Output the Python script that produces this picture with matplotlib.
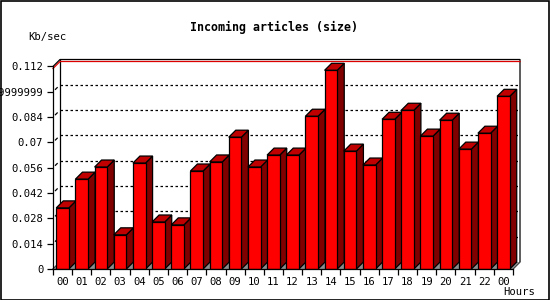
import numpy as np
import matplotlib
matplotlib.use("Agg")
import matplotlib.pyplot as plt
from matplotlib.patches import Polygon, Rectangle

# data
hours = ["00", "01", "02", "03", "04", "05", "06", "07", "08", "09", "10", "11",
         "12", "13", "14", "15", "16", "17", "18", "19", "20", "21", "22", "00"]
kb_sec = [0.0338, 0.0497, 0.0564, 0.0189, 0.0586, 0.0260, 0.0244, 0.0542,
          0.0592, 0.0729, 0.0564, 0.0630, 0.0630, 0.0845, 0.1099, 0.0652,
          0.0575, 0.0828, 0.0878, 0.0735, 0.0823, 0.0663, 0.0751, 0.0955]
ytick_vals = [0, 0.014, 0.028, 0.042, 0.056, 0.07, 0.084, 0.098, 0.112]
ytick_labels = ["0", "0.014", "0.028", "0.042", "0.056", "0.07", "0.084",
                "0.09999999", "0.112"]

mono = "DejaVu Sans Mono"
W, H = 550, 300
fig = plt.figure(figsize=(W / 100, H / 100), dpi=100)
fig.patch.set_facecolor("white")
fig.patches.append(Rectangle((0.5 / W, 0.5 / H), 1 - 1.5 / W, 1 - 1.5 / H,
                             transform=fig.transFigure, fill=False,
                             edgecolor="black", linewidth=1.2))

# front face of the plot area in pixels
left_px, right_px, top_px, bot_px = 53, 513, 66.5, 269
ax = fig.add_axes([left_px / W, 1 - bot_px / H, (right_px - left_px) / W,
                   (bot_px - top_px) / H])
ax.patch.set_alpha(0)

xmin, xmax = -0.5, len(hours) - 0.5
ymin, ymax = 0, 0.112
ax.set_xlim(xmin, xmax)
ax.set_ylim(ymin, ymax)

# 3d depth, 7 px right and up
DX = 7 * (xmax - xmin) / (right_px - left_px)
DY = 7 * (ymax - ymin) / (bot_px - top_px)
RED_OFF = 2 * (ymax - ymin) / (bot_px - top_px)

lw = 0.9
# back wall grid
for v in ytick_vals[1:-1]:
    ax.plot([xmin + DX, xmax + DX], [v + DY, v + DY], color="black", lw=lw,
            linestyle=(0, (2, 2)), clip_on=False, zorder=1)
    ax.plot([xmin + 0.35 * DX, xmin + 0.6 * DX], [v + 0.35 * DY, v + 0.6 * DY],
            color="black", lw=lw, clip_on=False, zorder=1)

# back wall frame
ax.plot([xmin, xmin + DX, xmax + DX, xmax + DX, xmax],
        [ymax, ymax + DY, ymax + DY, DY, 0], color="black", lw=lw,
        clip_on=False, zorder=1)
ax.plot([xmin + DX, xmin + DX], [DY, ymax + DY], color="black", lw=lw,
        clip_on=False, zorder=1)
ax.plot([xmin, xmin + DX], [0, DY], color="black", lw=lw, clip_on=False, zorder=1)
ax.plot([xmin, xmin + DX, xmax + DX], [ymax - RED_OFF, ymax + DY - RED_OFF, ymax + DY - RED_OFF],
        color="#dd0000", lw=lw, clip_on=False, zorder=1)

# floor
ax.add_patch(Polygon([(xmin, 0), (xmax, 0), (xmax + DX, DY), (xmin + DX, DY)],
                     closed=True, facecolor="#8c8c8c", edgecolor="none",
                     clip_on=False, zorder=1.5))

# bars
x = np.arange(len(hours))
bw = 0.66
ax.bar(x, kb_sec, width=bw, color="#ff0000", edgecolor="black", linewidth=lw,
       zorder=3)
for xi, v in zip(x, kb_sec):
    l, r = xi - bw / 2, xi + bw / 2
    ax.add_patch(Polygon([(r, 0), (r + DX, DY), (r + DX, v + DY), (r, v)],
                         closed=True, facecolor="#800000", edgecolor="black",
                         linewidth=lw, clip_on=False, zorder=2.8))
    ax.add_patch(Polygon([(l, v), (r, v), (r + DX, v + DY), (l + DX, v + DY)],
                         closed=True, facecolor="#c00000", edgecolor="black",
                         linewidth=lw, clip_on=False, zorder=2.8))

# axes
for s in ["top", "right"]:
    ax.spines[s].set_visible(False)
for s in ["left", "bottom"]:
    ax.spines[s].set_linewidth(lw)
    ax.spines[s].set_zorder(4)

ax.set_yticks(ytick_vals)
ax.set_yticklabels(ytick_labels, fontfamily=mono, fontsize=7.6)
ax.tick_params(axis="y", length=4, width=lw, pad=3)

ax.set_xticks(x)
ax.set_xticklabels(hours, fontfamily=mono, fontsize=7.6)
ax.set_xticks(np.arange(len(hours) + 1) - 0.5, minor=True)
ax.tick_params(axis="x", which="major", length=0, pad=6)
ax.tick_params(axis="x", which="minor", length=4, width=lw)

fig.text(274 / W, 1 - 27 / H, "Incoming articles (size)", fontfamily=mono,
         fontsize=8.4, fontweight="bold", ha="center", va="center")
fig.text(47 / W, 1 - 37 / H, "Kb/sec", fontfamily=mono, fontsize=7.6,
         ha="center", va="center")
fig.text(535 / W, 1 - 292 / H, "Hours", fontfamily=mono, fontsize=7.6,
         ha="right", va="center")

fig.savefig("out.png", dpi=100)
